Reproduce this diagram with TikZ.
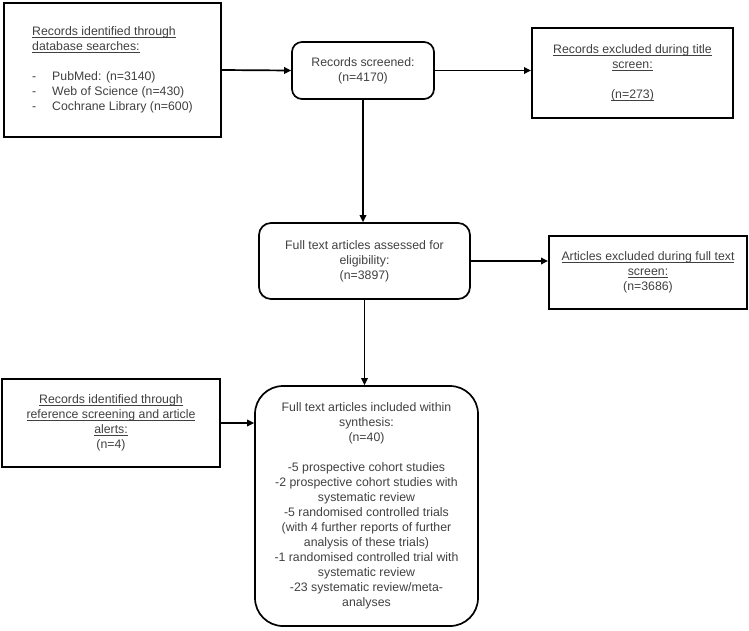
\documentclass[tikz,border=0pt]{standalone}
\usepackage{fontspec}
\setmainfont{Liberation Sans}
\usetikzlibrary{arrows.meta}
\newcommand\ulx[1]{\setbox0\hbox{#1}\rlap{\rule[-2.2pt]{\wd0}{0.6pt}}\box0}
\begin{document}
\begin{tikzpicture}[x=1pt,y=-1pt,
  sq/.style={draw, line width=2pt, inner sep=0pt, text=black!75,
    font=\fontsize{12.3}{15}\selectfont, align=center},
  rnd/.style={sq, rounded corners=10pt, line width=1.7pt},
  arr/.style={line width=1.7pt, -{Triangle[length=7pt,width=6.5pt]}}]
\useasboundingbox (0,0) rectangle (749,630);
\node[sq, align=left, minimum width=217pt, minimum height=134pt] (db) at (112.5,70)
  {\ulx{Records identified through}\\\ulx{database searches:}\\[15pt]
   \makebox[20pt][l]{-}PubMed: (n=3140)\\
   \makebox[20pt][l]{-}Web of Science (n=430)\\
   \makebox[20pt][l]{-}Cochrane Library (n=600)};
\node[rnd, minimum width=142pt, minimum height=57pt] (scr) at (363,70.5)
  {Records screened:\\(n=4170)};
\node[sq, minimum width=201pt, minimum height=90pt] (ex1) at (632.5,73)
  {\ulx{Records excluded during title}\\\ulx{screen:}\\[15pt]\ulx{(n=273)}};
\node[rnd, rounded corners=12pt, minimum width=211pt, minimum height=76pt] (ft) at (364.5,261)
  {Full text articles assessed for\\eligibility:\\(n=3897)};
\node[sq, minimum width=198pt, minimum height=73pt] (ex2) at (648,272.5)
  {\ulx{Articles excluded during full text}\\\ulx{screen:}\\(n=3686)};
\node[sq, minimum width=218pt, minimum height=88pt] (ref) at (111,423)
  {\ulx{Records identified through}\\\ulx{reference screening and article}\\\ulx{alerts:}\\(n=4)};
\node[rnd, rounded corners=28pt, minimum width=223pt, minimum height=240pt] (inc) at (366.5,506)
  {Full text articles included within\\synthesis:\\(n=40)\\[15pt]
   -5 prospective cohort studies\\
   -2 prospective cohort studies with\\
   systematic review\\
   -5 randomised controlled trials\\
   (with 4 further reports of further\\
   analysis of these trials)\\
   -1 randomised controlled trial with\\
   systematic review\\
   -23 systematic review/meta-\\
   analyses};
\draw[arr] (db.east) -- (scr.west);
\draw[arr] (scr.east) -- (scr.east -| ex1.west);
\draw[arr] (scr.south) -- (scr.south |- ft.north);
\draw[arr] (ft.east) -- (ft.east -| ex2.west);
\draw[arr] (ft.south) -- (ft.south |- inc.north);
\draw[arr] (ref.east) -- (ref.east -| inc.west);
\end{tikzpicture}
\end{document}
